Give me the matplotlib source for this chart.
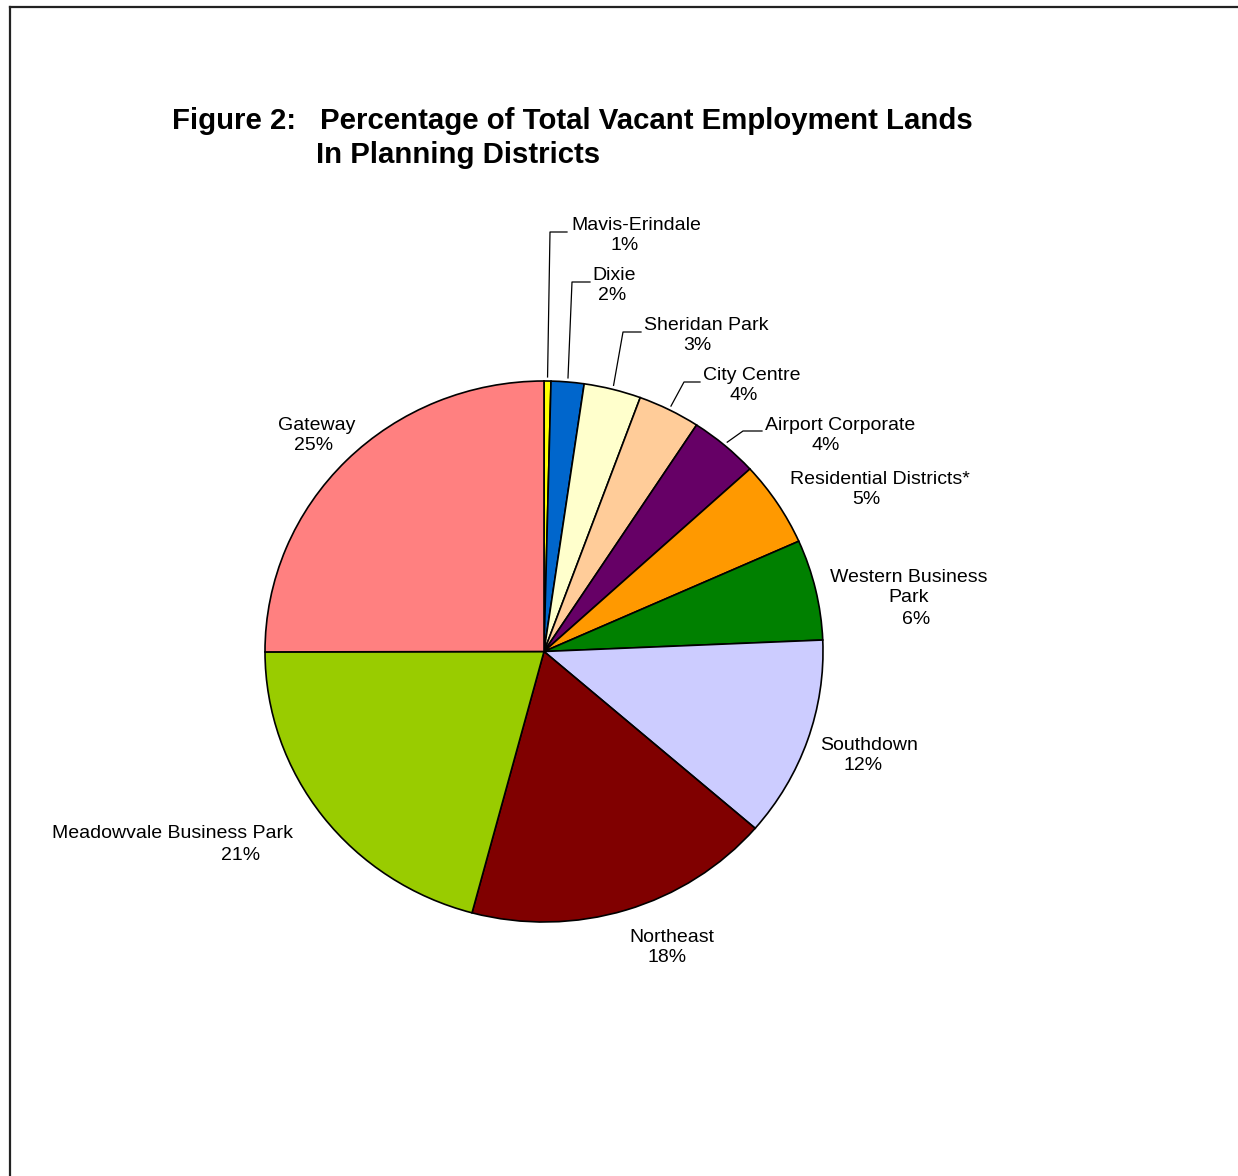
import matplotlib.pyplot as plt
from matplotlib.lines import Line2D
import numpy as np

plt.rcParams['font.family'] = ['Liberation Sans', 'DejaVu Sans']

# data (clockwise from 12 o'clock)
districts = ['Mavis-Erindale', 'Dixie', 'Sheridan Park', 'City Centre', 'Airport Corporate',
             'Residential Districts*', 'Western Business\nPark', 'Southdown', 'Northeast',
             'Meadowvale Business Park', 'Gateway']
shares = [0.4, 1.9, 3.3, 3.6, 4.0, 5.1, 6.0, 12.0, 17.8, 20.8, 25.0]
pct_labels = ['1%', '2%', '3%', '4%', '4%', '5%', '6%', '12%', '18%', '21%', '25%']
colors = ['#FFFF00', '#0066CC', '#FFFFCC', '#FFCC99', '#660066', '#FF9900',
          '#008000', '#CCCCFF', '#800000', '#99CC00', '#FF8080']

W, H = 1238, 1176
CX, CY, RX, RY = 544, 651.5, 279, 270.5

fig = plt.figure(figsize=(W / 100, H / 100), dpi=100)
ax = fig.add_axes([(CX - RX) / W, (H - CY - RY) / H, 2 * RX / W, 2 * RY / H])
ax.pie(shares, colors=colors, startangle=90, counterclock=False,
       wedgeprops=dict(edgecolor='black', linewidth=1.2))
ax.set_aspect('auto')
ax.set_xlim(-1, 1)
ax.set_ylim(-1, 1)


def to(px, py):
    return (px - CX) / RX, (CY - py) / RY


# label placement in pixels: (name x, name top-line y, pct x)
label_pos = [(636, 225, 625), (614, 275, 612), (706, 325, 697), (752, 375, 744),
             (840, 425, 826), (880, 479, 866), (909, 577, 916), (869, 745, 863),
             (672, 937, 667), (173, 834, 241), (317, 425, 314)]
# leader lines: elbow and end point in pixels for the small slices
leaders = {0: ((550, 232), (567, 232)), 1: ((572, 282), (590, 282)),
           2: ((623, 332), (641, 332)), 3: ((684, 382), (700, 382)),
           4: ((743, 431), (762, 431))}

cum = np.cumsum([0] + shares[:-1])
for i, (name, pct) in enumerate(zip(districts, pct_labels)):
    nx, ny, px = label_pos[i]
    lines = name.split('\n')
    for k, ln in enumerate(lines):
        x, y = to(nx, ny + 21 * k)
        ax.text(x, y, ln, ha='center', va='center', fontsize=14, clip_on=False)
    x, y = to(px, ny + 21 * len(lines))
    ax.text(x, y, pct, ha='center', va='center', fontsize=14, clip_on=False)
    if i in leaders:
        mid = np.deg2rad(90 - (cum[i] + shares[i] / 2) * 3.6)
        sx, sy = np.cos(mid) * 1.015, np.sin(mid) * 1.015
        (ex, ey), (fx, fy) = leaders[i]
        e = to(ex, ey)
        f = to(fx, fy)
        ax.plot([sx, e[0], f[0]], [sy, e[1], f[1]], color='black', lw=0.9, clip_on=False)

# title
fig.text(172 / W, 1 - 121 / H, 'Figure 2:', fontsize=21.2, fontweight='bold', va='center')
fig.text(320 / W, 1 - 121 / H, 'Percentage of Total Vacant Employment Lands',
         fontsize=21.2, fontweight='bold', va='center')
fig.text(316 / W, 1 - 155 / H, 'In Planning Districts', fontsize=21.2,
         fontweight='bold', va='center')

# frame around the chart area
fig.add_artist(Line2D([9.5 / W, 9.5 / W], [0, 1 - 6.5 / H], color='#222222', lw=1.6))
fig.add_artist(Line2D([9.5 / W, 1], [1 - 6.5 / H, 1 - 6.5 / H], color='#222222', lw=1.6))

fig.savefig('out.png', dpi=100)
